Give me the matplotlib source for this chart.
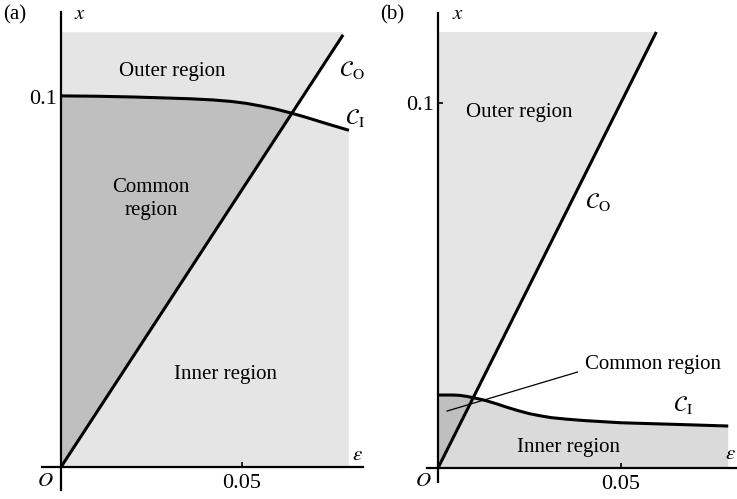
import matplotlib
matplotlib.use("Agg")
import matplotlib.pyplot as plt
from matplotlib.patches import Polygon

plt.rcParams['font.family'] = ['Liberation Serif', 'DejaVu Serif']
plt.rcParams['mathtext.fontset'] = 'stix'

# curve C_I, panel (a): (eps, x)
eps_ci_a = [0.0, 0.010, 0.020, 0.030, 0.036, 0.042, 0.047, 0.051, 0.055, 0.059, 0.063, 0.067, 0.073, 0.0795]
x_ci_a = [0.1003, 0.1002, 0.1000, 0.0997, 0.0995, 0.0992, 0.0988, 0.0983, 0.0976, 0.0968, 0.0958, 0.0947, 0.0929, 0.0910]
# curve C_O, panel (a): straight line from the origin
eps_co_a = [0.0, 0.0779]
x_co_a = [0.0, 0.1168]
xtop_a = 0.1175

# curve C_I, panel (b)
eps_ci_b = [0.0, 0.004, 0.006, 0.008, 0.010, 0.013, 0.016, 0.019, 0.022, 0.025, 0.028,
            0.031, 0.035, 0.040, 0.045, 0.050, 0.060, 0.070, 0.0795]
x_ci_b = [0.0200, 0.0200, 0.0199, 0.0196, 0.0192, 0.0185, 0.0176, 0.0166, 0.0157, 0.0149, 0.0143,
          0.0138, 0.0134, 0.0130, 0.0127, 0.0124, 0.0121, 0.0118, 0.0115]
# curve C_O, panel (b)
eps_co_b = [0.0, 0.0598]
x_co_b = [0.0, 0.1195]
xtop_b = 0.1195

LIGHT = '#e5e5e5'
DARK = '#bfbfbf'
FS = 15


def panel(ax, eps_ci, x_ci, eps_co, x_co, xtop, inner_col):
    # outer region: left of C_O, up to the top of the plot
    outer_pts = [(0, 0)] + list(zip(eps_co, x_co))[1:] + [(eps_co[-1], xtop), (0, xtop)]
    outer = Polygon(outer_pts, closed=True, fc=LIGHT, ec='none', zorder=1)
    ax.add_patch(outer)
    # inner region: below C_I
    inner_pts = [(0, 0)] + list(zip(eps_ci, x_ci)) + [(eps_ci[-1], 0)]
    ax.add_patch(Polygon(inner_pts, closed=True, fc=inner_col, ec='none', zorder=1))
    # common region: inner clipped by outer
    common = Polygon(inner_pts, closed=True, fc=DARK, ec='none', zorder=2)
    ax.add_patch(common)
    common.set_clip_path(outer)

    ax.plot(eps_co, x_co, color='black', lw=2.2, zorder=3, solid_capstyle='butt')
    ax.plot(eps_ci, x_ci, color='black', lw=2.2, zorder=3, solid_capstyle='butt',
            solid_joinstyle='round')

    for side in ['top', 'right']:
        ax.spines[side].set_visible(False)
    ax.spines['left'].set_position(('data', 0))
    ax.spines['bottom'].set_position(('data', 0))
    for side in ['left', 'bottom']:
        ax.spines[side].set_linewidth(1.6)
        ax.spines[side].set_zorder(4)
    ax.set_xticks([0.05])
    ax.set_xticklabels(['0.05'])
    ax.set_yticks([0.1])
    ax.set_yticklabels(['0.1'])
    ax.tick_params(direction='in', length=3.5, width=1.2, labelsize=FS + 1)
    ax.tick_params(axis='x', pad=5)
    ax.tick_params(axis='y', pad=3)
    ax.patch.set_alpha(0)


fig = plt.figure(figsize=(7.37, 4.99), dpi=100)
W, H = 737, 499


def add_axes_px(x0, x1, ytop, ybot):
    return fig.add_axes([x0 / W, (H - ybot) / H, (x1 - x0) / W, (ybot - ytop) / H])


# panel (a)
ax1 = add_axes_px(42, 363, 12, 490)
ax1.set_xlim(-0.00525, 0.0834)
ax1.set_ylim(-0.00622, 0.12297)
panel(ax1, eps_ci_a, x_ci_a, eps_co_a, x_co_a, xtop_a, LIGHT)
ax1.text(0.0307, 0.107, 'Outer region', fontsize=FS, ha='center', va='center', zorder=5)
ax1.text(0.0249, 0.0724, 'Common\nregion', fontsize=FS, ha='center', va='center',
         linespacing=1.3, zorder=5)
ax1.text(0.0453, 0.0249, 'Inner region', fontsize=FS, ha='center', va='center', zorder=5)
ax1.text(0.0804, 0.1073, r'$\mathcal{C}_{\mathrm{O}}$', fontsize=FS + 1, ha='center', va='center')
ax1.text(0.0812, 0.0943, r'$\mathcal{C}_{\mathrm{I}}$', fontsize=FS + 1, ha='center', va='center')
ax1.text(0.0820, 0.0030, r'$\varepsilon$', fontsize=FS, ha='center', va='center')
ax1.text(0.0052, 0.1224, r'$x$', fontsize=FS, ha='center', va='center')
ax1.text(-0.0044, -0.0038, r'$O$', fontsize=FS, ha='center', va='center')

# panel (b)
ax2 = add_axes_px(427, 737, 13, 482)
ax2.set_xlim(-0.00302, 0.0819)
ax2.set_ylim(-0.00384, 0.1247)
panel(ax2, eps_ci_b, x_ci_b, eps_co_b, x_co_b, xtop_b, '#dadada')
ax2.text(0.0223, 0.0975, 'Outer region', fontsize=FS, ha='center', va='center', zorder=5)
ax2.text(0.0357, 0.00575, 'Inner region', fontsize=FS, ha='center', va='center', zorder=5)
ax2.text(0.0588, 0.0285, 'Common region', fontsize=FS, ha='center', va='center', zorder=5)
ax2.plot([0.00247, 0.0382], [0.0156, 0.0263], color='black', lw=0.9, zorder=5)
ax2.text(0.0437, 0.0729, r'$\mathcal{C}_{\mathrm{O}}$', fontsize=FS + 1, ha='center', va='center')
ax2.text(0.0670, 0.0173, r'$\mathcal{C}_{\mathrm{I}}$', fontsize=FS + 1, ha='center', va='center')
ax2.text(0.0800, 0.0036, r'$\varepsilon$', fontsize=FS, ha='center', va='center')
ax2.text(0.0055, 0.1244, r'$x$', fontsize=FS, ha='center', va='center')
ax2.text(-0.0041, -0.0036, r'$O$', fontsize=FS, ha='center', va='center')

fig.text(15 / W, 1 - 15 / H, '(a)', fontsize=FS, ha='center', va='center')
fig.text(392 / W, 1 - 15 / H, '(b)', fontsize=FS, ha='center', va='center')

fig.savefig('out.png', dpi=100)
